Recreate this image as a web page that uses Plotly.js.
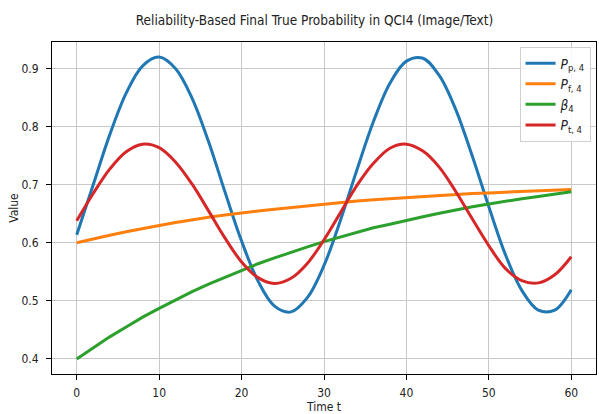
<!DOCTYPE html>
<html>
<head>
<meta charset="utf-8">
<script src="https://cdn.plot.ly/plotly-3.0.1.min.js"></script>
<style>html,body{margin:0;padding:0;background:#fff;}#chart{width:599px;height:414px;}</style>
</head>
<body>
<div id="chart"></div>
<script>
const timeT = [0,2,4,6,8,10,12,14,16,18,20,22,24,26,28,30,32,34,36,38,40,42,44,46,48,50,52,54,56,58,60];
const pP4 = [0.614,0.700,0.786,0.858,0.905,0.920,0.900,0.849,0.774,0.687,0.603,0.534,0.491,0.481,0.506,0.561,0.639,0.726,0.809,0.875,0.913,0.918,0.888,0.829,0.749,0.662,0.580,0.518,0.484,0.484,0.519];
const pF4 = [0.600,0.607,0.613,0.619,0.625,0.630,0.635,0.640,0.644,0.648,0.652,0.655,0.658,0.661,0.664,0.667,0.670,0.672,0.674,0.676,0.678,0.680,0.682,0.683,0.685,0.686,0.687,0.688,0.690,0.691,0.692];
const beta4 = [0.400,0.419,0.438,0.455,0.472,0.487,0.502,0.516,0.529,0.541,0.553,0.564,0.574,0.584,0.593,0.602,0.610,0.618,0.626,0.632,0.639,0.645,0.651,0.657,0.662,0.667,0.672,0.676,0.680,0.684,0.688];
const pT4 = [0.638,0.685,0.727,0.757,0.770,0.764,0.739,0.701,0.655,0.608,0.567,0.540,0.530,0.539,0.565,0.605,0.652,0.699,0.737,0.763,0.770,0.758,0.730,0.688,0.641,0.595,0.556,0.535,0.531,0.545,0.576];
const seriesNames = ['<i>P</i><sub>p, 4</sub>','<i>P</i><sub>f, 4</sub>','<i>β</i><sub>4</sub>','<i>P</i><sub>t, 4</sub>'];
const seriesColors = ['#1f77b4','#ff7f0e','#2ca02c','#d62728'];
const xTicks = [0,10,20,30,40,50,60];
const yTicks = [0.4,0.5,0.6,0.7,0.8,0.9];

const FONT = 'DejaVu Sans Condensed, Liberation Sans Narrow, DejaVu Sans, sans-serif';
const ys = [pP4, pF4, beta4, pT4];
const shapes = ['spline','linear','linear','spline'];
const traces = ys.map((y, i) => ({
  x: timeT, y: y, type: 'scatter', mode: 'lines', name: seriesNames[i],
  line: {color: seriesColors[i], width: 3, shape: shapes[i], smoothing: 1}
}));

const axisCommon = {
  showline: true, mirror: true, linecolor: '#000', linewidth: 1,
  ticks: 'outside', ticklen: 5, tickcolor: '#000', tickwidth: 1,
  showgrid: true, gridcolor: '#c8c8c8', gridwidth: 1, zeroline: false,
  tickfont: {family: FONT, size: 12, color: '#222'}
};

const layout = {
  width: 599, height: 414,
  margin: {l: 52, r: 3, t: 42, b: 40},
  paper_bgcolor: '#fff', plot_bgcolor: '#fff',
  font: {family: FONT, color: '#222'},
  title: {text: 'Reliability-Based Final True Probability in QCI4 (Image/Text)', font: {family: FONT, size: 13.5, color: '#222'}, x: 0.525, xanchor: 'center', y: 0.95, yanchor: 'middle'},
  xaxis: Object.assign({}, axisCommon, {range: [-3, 63], tickvals: xTicks, ticktext: xTicks.map(String),
    ticklabelstandoff: 3,
    title: {text: 'Time t', font: {family: FONT, size: 12, color: '#222'}, standoff: 4}}),
  yaxis: Object.assign({}, axisCommon, {range: [0.374, 0.946], tickvals: yTicks, ticktext: yTicks.map(v => v.toFixed(1)),
    ticklabelstandoff: 5,
    title: {text: 'Value', font: {family: FONT, size: 12, color: '#222'}, standoff: 0}}),
  legend: {x: 0.99, xanchor: 'right', y: 0.985, yanchor: 'top', bgcolor: 'rgba(255,255,255,0.85)',
    bordercolor: '#d0d0d0', borderwidth: 1, font: {family: FONT, size: 13.5, color: '#222'},
    itemwidth: 30, tracegroupgap: 0},
  showlegend: true
};

Plotly.newPlot('chart', traces, layout, {displayModeBar: false, staticPlot: true});
</script>
</body>
</html>
